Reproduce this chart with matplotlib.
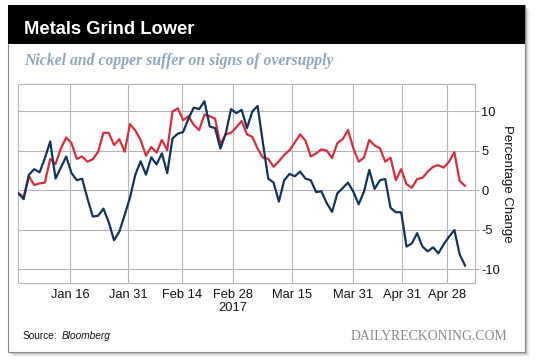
import matplotlib
matplotlib.use("Agg")
import matplotlib.pyplot as plt
from matplotlib.patches import Rectangle

# ---- data ----
nickel = [-0.35, -1.1, 2.0, 2.7, 2.3, 4.1, 6.2, 1.5, 2.9, 4.3,
          2.2, 1.3, 1.5, -1.0, -3.3, -3.2, -2.3, -4.0, -6.3, -5.2,
          -3.1, -0.9, 2.0, 3.7, 2.0, 4.2, 3.3, 4.7, 2.2, 6.6,
          7.2, 7.4, 9.1, 10.5, 10.3, 11.3, 8.1, 7.9, 5.3, 7.2,
          10.3, 9.8, 10.2, 7.9, 10.0, 10.7, 6.0, 1.5, 1.0, -1.4,
          1.3, 2.1, 1.8, 2.4, 1.5, 1.3, -0.2, -0.1, -1.6, -2.7,
          -0.35, 0.3, 1.0, -0.15, -1.75, -0.15, 2.6, 0.2, 1.3, 1.45,
          -2.2, -2.75, -2.75, -7.1, -6.7, -5.4, -7.1, -7.7, -7.2, -7.95,
          -6.8, -5.85, -5.0, -8.1, -9.5]
copper = [-0.35, -0.8, 1.8, 0.7, 0.9, 1.0, 4.0, 3.35, 5.3, 6.7,
          6.0, 4.0, 4.3, 3.65, 3.95, 4.9, 7.3, 7.3, 5.75, 6.5,
          4.9, 8.4, 7.6, 6.4, 4.4, 5.5, 4.8, 6.4, 5.1, 10.0,
          10.4, 8.9, 9.4, 8.3, 7.65, 9.6, 9.4, 9.1, 5.85, 7.1,
          7.3, 8.0, 8.8, 7.1, 6.8, 5.3, 4.15, 4.0, 3.0, 3.7,
          4.5, 5.1, 6.1, 7.1, 6.3, 4.3, 4.7, 5.2, 5.05, 4.1,
          6.0, 6.5, 7.65, 5.35, 3.65, 4.15, 6.4, 5.7, 5.35, 3.65,
          4.15, 1.3, 2.7, 0.8, 0.35, 1.45, 1.6, 2.4, 3.0, 3.2,
          2.9, 3.65, 4.85, 1.2, 0.6]
tick_pos = [9.72, 20.63, 30.78, 40.37, 51.47, 62.94, 72.15, 80.6]
tick_labels = ["Jan 16", "Jan 31", "Feb 14", "Feb 28\n2017", "Mar 15",
               "Mar 31", "Apr 31", "Apr 28"]
y_ticks = [10, 5, 0, -5, -10]

W, H = 540, 363
fig = plt.figure(figsize=(W / 100, H / 100), dpi=100)
fig.patch.set_facecolor("white")

def fx(px):
    return px / W

def fy(py):
    return 1 - py / H

# card shadow
for i, a in enumerate([0.14, 0.10, 0.07, 0.05, 0.03]):
    off = i + 1
    fig.patches.append(Rectangle((fx(8 + off), fy(352 + off)), fx(517), 347 / H,
                                 transform=fig.transFigure, facecolor="black",
                                 edgecolor="none", alpha=a, zorder=0))
# card
fig.patches.append(Rectangle((fx(8), fy(352)), fx(517), 347 / H,
                             transform=fig.transFigure, facecolor="white",
                             edgecolor="#8a8a8a", linewidth=0.8, zorder=1))
# header
fig.patches.append(Rectangle((fx(8), fy(44)), fx(517), 39 / H,
                             transform=fig.transFigure, facecolor="black",
                             edgecolor="none", zorder=2))

fig.text(fx(24), fy(33.5), "Metals Grind Lower", color="white",
         fontsize=13.2, fontweight="bold", family="Liberation Sans",
         va="baseline", ha="left", zorder=3)
fig.text(fx(24), fy(65), "Nickel and copper suffer on signs of oversupply",
         color="#8ea7bf", fontsize=11.3, fontweight="bold", style="italic",
         family="Liberation Serif", va="baseline", ha="left", zorder=3)

ax = fig.add_axes([fx(18), fy(283), fx(475) - fx(18), (283 - 84) / H])
ax.set_zorder(5)
x = list(range(len(nickel)))
ax.plot(x, copper, color="#d42f3c", linewidth=1.6, zorder=3)
ax.plot(x, nickel, color="#13335b", linewidth=1.6, zorder=4)

ax.set_xlim(-0.06, 85.88)
ax.set_ylim(-11.71, 13.48)
ax.set_xticks(tick_pos)
ax.set_xticklabels(tick_labels, fontsize=9.3, family="Liberation Sans",
                   color="#111111", linespacing=1.2)
ax.set_yticks(y_ticks)
ax.set_yticklabels([str(v) for v in y_ticks], fontsize=9.3,
                   family="Liberation Sans", color="#111111")
ax.yaxis.tick_right()
ax.yaxis.set_label_position("right")
ax.tick_params(axis="x", length=0, pad=4)
ax.tick_params(axis="y", length=3, width=0.8, color="#aaaaaa", pad=1.5)
ax.grid(True, color="#b5b5b5", linewidth=0.8)
ax.set_axisbelow(True)
for s in ax.spines.values():
    s.set_color("#b5b5b5")
    s.set_linewidth(0.8)
ax.set_ylabel("Percentage Change", rotation=270, fontsize=9.5,
              family="Liberation Sans", color="#111111", labelpad=9)

fig.text(fx(23), fy(339), "Source:", fontsize=7.3, family="Liberation Sans",
         color="#111111", va="baseline", ha="left", zorder=3)
fig.text(fx(61.5), fy(339), "Bloomberg", fontsize=7.3, family="Liberation Sans",
         style="italic", color="#111111", va="baseline", ha="left", zorder=3)
fig.text(fx(507), fy(339.5), "DAILYRECKONING.COM", fontsize=9.9,
         family="Liberation Serif", color="#8a8a8a", va="baseline",
         ha="right", zorder=3)

fig.savefig("out.png", dpi=100)
